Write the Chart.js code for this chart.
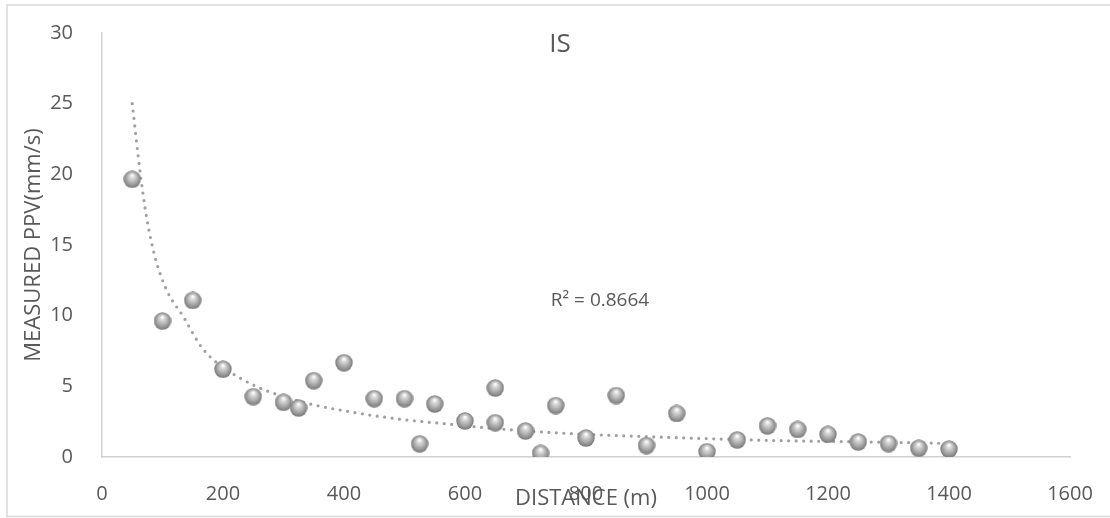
<!DOCTYPE html>
<html>
<head>
<meta charset="utf-8">
<script src="https://cdn.jsdelivr.net/npm/chart.js@4"></script>
<style>
  html, body { margin: 0; padding: 0; background: #fff; }
  #wrap { width: 1110px; height: 518px; }
</style>
</head>
<body>
<div id="wrap"><canvas id="ppvChart"></canvas></div>
<script>
// measured points
const distance = [50, 100, 150, 200, 250, 300, 325, 350, 400, 450, 500, 525, 550, 600, 650, 650,
  700, 725, 750, 800, 850, 900, 950, 1000, 1050, 1100, 1150, 1200, 1250, 1300, 1350, 1400];
const ppv = [19.65, 9.62, 11.08, 6.21, 4.27, 3.87, 3.47, 5.4, 6.67, 4.13, 4.13, 0.93, 3.75, 2.55, 4.88, 2.43,
  1.84, 0.26, 3.64, 1.34, 4.35, 0.81, 3.08, 0.38, 1.21, 2.2, 1.95, 1.6, 1.07, 0.95, 0.62, 0.56];

// trendline
const trendX = [50, 63, 74, 88, 107, 134, 167, 234, 327, 410, 493, 575, 641, 768, 900, 1038, 1115, 1225, 1400];
const trendY = [25, 20.15, 16.9, 14.1, 11.8, 9.96, 7.64, 5.45, 3.94, 3.2, 2.67, 2.32, 2.04, 1.67, 1.44, 1.25, 1.16, 1.09, 0.96];

const xTicks = [0, 1600, 200];
const yTicks = [0, 30, 5];
const chartTitle = 'IS';
const rSquared = 'R² = 0.8664';

const FONT = "'Open Sans', sans-serif";
const GREY_TEXT = '#595959';

// gray glossy ball for markers
function makeBall(size) {
  const c = document.createElement('canvas');
  c.width = size; c.height = size;
  const g = c.getContext('2d');
  const r = size / 2;
  const grad = g.createRadialGradient(r, r * 0.55, 0.5, r, r, r);
  grad.addColorStop(0, '#ffffff');
  grad.addColorStop(0.2, '#dcdcdc');
  grad.addColorStop(0.6, '#aaaaaa');
  grad.addColorStop(1, '#767676');
  g.fillStyle = grad;
  g.beginPath();
  g.arc(r, r, r - 0.3, 0, Math.PI * 2);
  g.fill();
  return c;
}
const ball = makeBall(18);

const extras = {
  id: 'extras',
  beforeDraw(chart) {
    const ctx = chart.ctx;
    ctx.save();
    ctx.strokeStyle = '#d9d9d9';
    ctx.lineWidth = 1.5;
    ctx.strokeRect(7, 5, 1120, 511.5);
    ctx.restore();
  },
  afterDraw(chart) {
    const ctx = chart.ctx;
    ctx.save();
    ctx.fillStyle = GREY_TEXT;
    ctx.textAlign = 'center';
    ctx.textBaseline = 'middle';
    ctx.font = '26px ' + FONT;
    ctx.fillText(chartTitle, 560, 45);
    ctx.font = '19px ' + FONT;
    ctx.fillText(rSquared, 600, 301);
    ctx.restore();
  }
};

new Chart(document.getElementById('ppvChart').getContext('2d'), {
  type: 'scatter',
  data: {
    datasets: [{
      label: 'PPV',
      data: distance.map((d, i) => ({ x: d, y: ppv[i] })),
      pointStyle: ball,
      order: 1
    }, {
      label: 'Trend',
      type: 'line',
      data: trendX.map((d, i) => ({ x: d, y: trendY[i] })),
      borderColor: '#a0a0a0',
      borderWidth: 3.2,
      borderDash: [0, 7.5],
      borderCapStyle: 'round',
      cubicInterpolationMode: 'monotone',
      pointRadius: 0,
      fill: false,
      order: 2
    }]
  },
  options: {
    responsive: true,
    maintainAspectRatio: false,
    animation: false,
    layout: { padding: { left: 0, right: 40, top: 25, bottom: 0 } },
    plugins: {
      legend: { display: false },
      tooltip: { enabled: false }
    },
    scales: {
      x: {
        type: 'linear',
        min: xTicks[0], max: xTicks[1],
        ticks: { stepSize: xTicks[2], padding: 17, color: GREY_TEXT, font: { family: FONT, size: 20 },
          callback: v => String(v) },
        grid: { display: false },
        border: { display: true, color: '#d0d0d0', width: 1.5 },
        title: { display: true, text: 'DISTANCE (m)', color: GREY_TEXT, font: { family: FONT, size: 22 }, padding: { top: 0, bottom: 6 } },
        afterFit(scale) { scale.height = 61; }
      },
      y: {
        type: 'linear',
        min: yTicks[0], max: yTicks[1],
        ticks: { stepSize: yTicks[2], padding: 21, color: GREY_TEXT, font: { family: FONT, size: 20 } },
        grid: { display: false },
        border: { display: true, color: '#d0d0d0', width: 1.5 },
        title: { display: true, text: 'MEASURED PPV(mm/s)', color: GREY_TEXT, font: { family: FONT, size: 22 }, padding: { top: 21, bottom: 0 } },
        afterFit(scale) { scale.width = 102; }
      }
    }
  },
  plugins: [extras]
});
</script>
</body>
</html>
